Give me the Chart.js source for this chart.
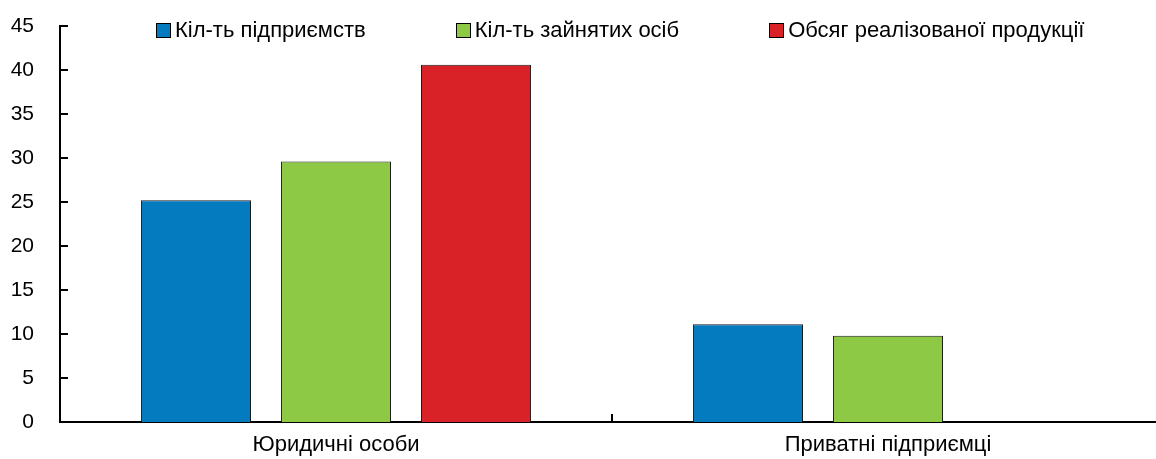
<!DOCTYPE html>
<html>
<head>
<meta charset="utf-8">
<script src="https://cdn.jsdelivr.net/npm/chart.js@4.4.1/dist/chart.umd.min.js"></script>
<style>
  html, body { margin: 0; padding: 0; background: #fff; overflow: hidden; }
  #wrap { position: relative; width: 1156px; height: 459px; overflow: hidden; }
  canvas { display: block; }
  #legend {
    position: absolute; left: 156px; top: 17px;
    display: flex; gap: 90px;
    font-family: 'Liberation Sans', Arial, sans-serif;
    font-size: 22px; color: #000; white-space: nowrap;
  }
  #legend .item { display: flex; align-items: center; }
  #legend .box { width: 15px; height: 15px; border: 1px solid #000; box-sizing: border-box; margin-right: 4px; }
</style>
</head>
<body>
<div id="wrap">
  <canvas id="myChart" width="1164" height="459"></canvas>
  <div id="legend"></div>
</div>
<script>
  const categories = ['Юридичні особи', 'Приватні підприємці']
  const seriesNames = ['Кіл-ть підприємств', 'Кіл-ть зайнятих осіб', 'Обсяг реалізованої продукції']
  const enterprises = [25.2, 11.1]
  const employed = [29.6, 9.8]
  const sales = [40.6, null]
  const yTicks = [0, 5, 10, 15, 20, 25, 30, 35, 40, 45]

  const colors = ['#047ABF', '#8DC945', '#D92128']
  const fontFamily = "'Liberation Sans', Arial, sans-serif"

  // ticks drawn inside the plot, as in the original
  const innerTicks = {
    id: 'innerTicks',
    afterDraw(chart) {
      const { ctx, chartArea, scales } = chart
      ctx.save()
      ctx.strokeStyle = '#000'
      ctx.lineWidth = 2
      ctx.beginPath()
      scales.y.ticks.forEach((t, i) => {
        const y = Math.round(scales.y.getPixelForTick(i))
        ctx.moveTo(chartArea.left, y)
        ctx.lineTo(chartArea.left + 8, y)
      })
      for (let i = 0; i < categories.length - 1; i++) {
        const x = Math.round(scales.x.getPixelForValue(i + 0.5))
        ctx.moveTo(x, chartArea.bottom)
        ctx.lineTo(x, chartArea.bottom - 8)
      }
      ctx.stroke()
      ctx.restore()
    }
  }

  const series = [enterprises, employed, sales]
  const ctx = document.getElementById('myChart')
  new Chart(ctx, {
    type: 'bar',
    data: {
      labels: categories,
      datasets: series.map((d, i) => ({
        label: seriesNames[i],
        data: d,
        backgroundColor: colors[i],
        borderColor: '#1a1a1a',
        borderWidth: 1,
        categoryPercentage: 0.761,
        barPercentage: 0.786
      }))
    },
    options: {
      responsive: false,
      animation: false,
      layout: { padding: { top: 26, left: 0, right: 0, bottom: 0 } },
      plugins: {
        legend: { display: false },
        tooltip: { enabled: false }
      },
      scales: {
        x: {
          grid: { display: false, drawTicks: false },
          border: { display: true, color: '#000', width: 2 },
          ticks: {
            color: '#000',
            padding: 10,
            font: { family: fontFamily, size: 22 }
          },
          afterFit: s => { s.height = 37 }
        },
        y: {
          min: 0,
          max: 45,
          // grid hidden; tickLength only spaces the labels off the axis
          grid: { display: false, drawTicks: true, tickLength: 26 },
          border: { display: true, color: '#000', width: 2 },
          afterBuildTicks: s => { s.ticks = yTicks.map(v => ({ value: v })) },
          ticks: {
            color: '#000',
            padding: 0,
            font: { family: fontFamily, size: 21 }
          },
          afterFit: s => { s.width = 60 }
        }
      }
    },
    plugins: [innerTicks]
  })

  // legend
  const legend = document.getElementById('legend')
  seriesNames.forEach((name, i) => {
    const item = document.createElement('div')
    item.className = 'item'
    item.innerHTML = `<span class="box" style="background:${colors[i]}"></span><span>${name}</span>`
    legend.appendChild(item)
  })
</script>
</body>
</html>
